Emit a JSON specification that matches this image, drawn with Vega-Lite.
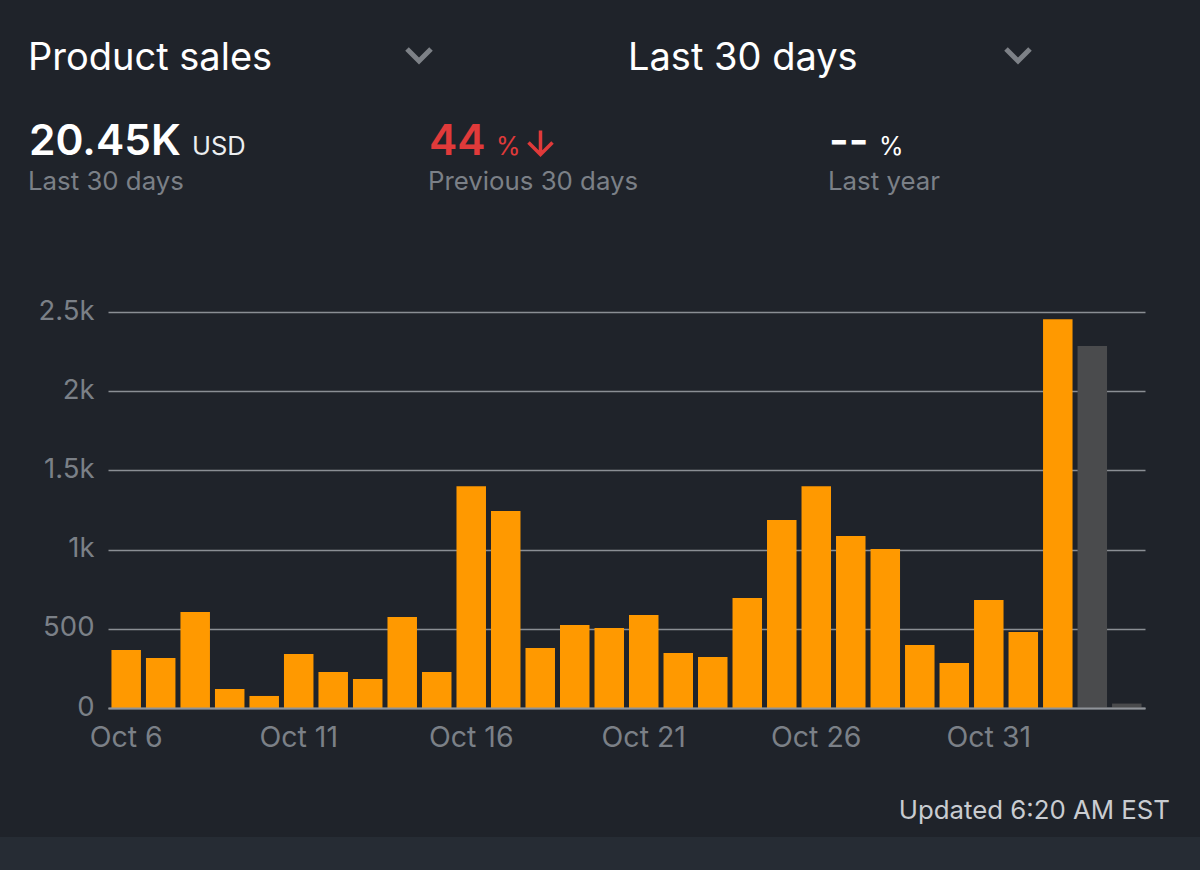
{
  "$schema": "https://vega.github.io/schema/vega-lite/v6.json",
  "width": 1037,
  "height": 396,
  "autosize": "none",
  "padding": {"left": 108, "top": 312, "right": 55, "bottom": 162},
  "background": "#1f232a",
  "config": {"view": {"stroke": null}, "font": "Inter", "text": {"font": "Inter", "align": "left", "baseline": "alphabetic"}},
  "resolve": {"scale": {"x": "independent", "y": "independent", "color": "independent"}, "axis": {"x": "independent", "y": "independent"}},
  "layer": [
    {
      "data": {"values": [{"zone": "footer"}]},
      "mark": {"type": "bar", "color": "#262c34"},
      "encoding": {
        "x": {"field": "zone", "type": "nominal", "axis": null, "scale": {"type": "band", "domain": ["footer"], "range": [-108, 1092], "padding": 0}},
        "y": {"field": "zone", "type": "nominal", "axis": null, "scale": {"type": "band", "domain": ["footer"], "range": [525, 558], "padding": 0}}
      }
    },
    {
      "data": {
        "values": [
          {"day": "Oct 6", "sales": 366, "status": "final"},
          {"day": "Oct 7", "sales": 316, "status": "final"},
          {"day": "Oct 8", "sales": 606, "status": "final"},
          {"day": "Oct 9", "sales": 120, "status": "final"},
          {"day": "Oct 10", "sales": 76, "status": "final"},
          {"day": "Oct 11", "sales": 341, "status": "final"},
          {"day": "Oct 12", "sales": 227, "status": "final"},
          {"day": "Oct 13", "sales": 183, "status": "final"},
          {"day": "Oct 14", "sales": 575, "status": "final"},
          {"day": "Oct 15", "sales": 227, "status": "final"},
          {"day": "Oct 16", "sales": 1400, "status": "final"},
          {"day": "Oct 17", "sales": 1244, "status": "final"},
          {"day": "Oct 18", "sales": 379, "status": "final"},
          {"day": "Oct 19", "sales": 524, "status": "final"},
          {"day": "Oct 20", "sales": 505, "status": "final"},
          {"day": "Oct 21", "sales": 587, "status": "final"},
          {"day": "Oct 22", "sales": 347, "status": "final"},
          {"day": "Oct 23", "sales": 322, "status": "final"},
          {"day": "Oct 24", "sales": 694, "status": "final"},
          {"day": "Oct 25", "sales": 1187, "status": "final"},
          {"day": "Oct 26", "sales": 1400, "status": "final"},
          {"day": "Oct 27", "sales": 1086, "status": "final"},
          {"day": "Oct 28", "sales": 1004, "status": "final"},
          {"day": "Oct 29", "sales": 398, "status": "final"},
          {"day": "Oct 30", "sales": 284, "status": "final"},
          {"day": "Oct 31", "sales": 682, "status": "final"},
          {"day": "Nov 1", "sales": 480, "status": "final"},
          {"day": "Nov 2", "sales": 2455, "status": "final"},
          {"day": "Nov 3", "sales": 2285, "status": "pending"},
          {"day": "Nov 4", "sales": 28, "status": "pending"}
        ]
      },
      "mark": {"type": "bar"},
      "encoding": {
        "x": {
          "field": "day",
          "type": "ordinal",
          "sort": null,
          "title": null,
          "scale": {"type": "band", "paddingInner": 0.145, "paddingOuter": 0.1},
          "axis": {
            "values": ["Oct 6", "Oct 11", "Oct 16", "Oct 21", "Oct 26", "Oct 31"],
            "labelAngle": 0,
            "labelColor": "#7b8087",
            "labelFontSize": 28.5,
            "labelPadding": 15,
            "ticks": false,
            "grid": false,
            "domainColor": "#8f9399",
            "domainWidth": 2,
            "zindex": 1
          }
        },
        "y": {
          "field": "sales",
          "type": "quantitative",
          "title": null,
          "scale": {"domain": [0, 2500]},
          "axis": {
            "values": [0, 500, 1000, 1500, 2000, 2500],
            "labelExpr": "datum.value >= 1000 ? (datum.value / 1000) + 'k' : datum.value",
            "labelColor": "#7b8087",
            "labelFontSize": 27.5,
            "labelPadding": 14,
            "labelOffset": -1,
            "domain": false,
            "ticks": false,
            "grid": true,
            "gridColor": "#8a8e94",
            "gridWidth": 1.5,
            "gridOpacity": 1
          }
        },
        "color": {
          "field": "status",
          "type": "nominal",
          "legend": null,
          "scale": {"domain": ["final", "pending"], "range": ["#ff9900", "#4a4b4d"]}
        }
      }
    },
    {
      "data": {"values": [{"label": "Product sales", "row": "selector"}, {"label": "Last 30 days", "row": "selector"}]},
      "mark": {"type": "text", "fontSize": 38, "color": "#ffffff"},
      "encoding": {
        "text": {"field": "label"},
        "x": {"field": "label", "type": "nominal", "axis": null, "scale": {"type": "point", "domain": ["Product sales", "Last 30 days"], "range": [-80, 520], "padding": 0}},
        "y": {"field": "row", "type": "nominal", "axis": null, "scale": {"type": "point", "domain": ["selector"], "range": [-242, -242], "padding": 0}}
      }
    },
    {
      "data": {"values": [{"menu": "metric", "row": "selector"}, {"menu": "period", "row": "selector"}]},
      "mark": {"type": "point", "filled": false, "shape": "M-1,-0.5L0,0.5L1,-0.5", "size": 576, "stroke": "#7d8187", "strokeWidth": 5, "opacity": 1},
      "encoding": {
        "x": {"field": "menu", "type": "nominal", "axis": null, "scale": {"type": "point", "domain": ["metric", "period"], "range": [311, 910], "padding": 0}},
        "y": {"field": "row", "type": "nominal", "axis": null, "scale": {"type": "point", "domain": ["selector"], "range": [-257, -257], "padding": 0}}
      }
    },
    {
      "data": {
        "values": [
          {"value": "20.45K", "row": "metric", "tone": "neutral"},
          {"value": "44", "row": "metric", "tone": "down"},
          {"value": "--", "row": "metric", "tone": "neutral"}
        ]
      },
      "mark": {"type": "text", "fontSize": 42.5, "fontWeight": 600},
      "encoding": {
        "text": {"field": "value"},
        "x": {"field": "value", "type": "nominal", "axis": null, "scale": {"type": "point", "domain": ["20.45K", "44", "--"], "range": [-79, 721], "padding": 0}},
        "y": {"field": "row", "type": "nominal", "axis": null, "scale": {"type": "point", "domain": ["metric"], "range": [-157, -157], "padding": 0}},
        "color": {"field": "tone", "type": "nominal", "legend": null, "scale": {"domain": ["neutral", "down"], "range": ["#ffffff", "#e03a3a"]}}
      }
    },
    {
      "data": {"values": [{"unit": "USD", "row": "metric"}]},
      "mark": {"type": "text", "fontSize": 25.5, "color": "#eceef0"},
      "encoding": {
        "text": {"field": "unit"},
        "x": {"field": "unit", "type": "nominal", "axis": null, "scale": {"type": "point", "domain": ["USD"], "range": [84, 84], "padding": 0}},
        "y": {"field": "row", "type": "nominal", "axis": null, "scale": {"type": "point", "domain": ["metric"], "range": [-157, -157], "padding": 0}}
      }
    },
    {
      "data": {"values": [{"unit": "%", "row": "metric", "tone": "down"}]},
      "mark": {"type": "text", "fontSize": 25, "color": "#e03a3a"},
      "encoding": {
        "text": {"field": "unit"},
        "x": {"field": "tone", "type": "nominal", "axis": null, "scale": {"type": "point", "domain": ["down"], "range": [388, 388], "padding": 0}},
        "y": {"field": "row", "type": "nominal", "axis": null, "scale": {"type": "point", "domain": ["metric"], "range": [-157, -157], "padding": 0}}
      }
    },
    {
      "data": {"values": [{"unit": "%", "row": "metric", "tone": "neutral"}]},
      "mark": {"type": "text", "fontSize": 25, "color": "#ffffff"},
      "encoding": {
        "text": {"field": "unit"},
        "x": {"field": "tone", "type": "nominal", "axis": null, "scale": {"type": "point", "domain": ["neutral"], "range": [771, 771], "padding": 0}},
        "y": {"field": "row", "type": "nominal", "axis": null, "scale": {"type": "point", "domain": ["metric"], "range": [-157, -157], "padding": 0}}
      }
    },
    {
      "data": {"values": [{"change": "down", "row": "metric"}]},
      "mark": {"type": "point", "filled": false, "shape": "M0,-1L0,1M-1,0L0,1L1,0", "size": 576, "stroke": "#e03a3a", "strokeWidth": 3.5, "opacity": 1},
      "encoding": {
        "x": {"field": "change", "type": "nominal", "axis": null, "scale": {"type": "point", "domain": ["down"], "range": [432.5, 432.5], "padding": 0}},
        "y": {"field": "row", "type": "nominal", "axis": null, "scale": {"type": "point", "domain": ["metric"], "range": [-169.5, -169.5], "padding": 0}}
      }
    },
    {
      "data": {
        "values": [
          {"caption": "Last 30 days", "row": "caption"},
          {"caption": "Previous 30 days", "row": "caption"},
          {"caption": "Last year", "row": "caption"}
        ]
      },
      "mark": {"type": "text", "fontSize": 25.8, "color": "#7b8087"},
      "encoding": {
        "text": {"field": "caption"},
        "x": {"field": "caption", "type": "nominal", "axis": null, "scale": {"type": "point", "domain": ["Last 30 days", "Previous 30 days", "Last year"], "range": [-80, 720], "padding": 0}},
        "y": {"field": "row", "type": "nominal", "axis": null, "scale": {"type": "point", "domain": ["caption"], "range": [-122, -122], "padding": 0}}
      }
    },
    {
      "data": {"values": [{"note": "Updated 6:20 AM EST", "row": "footer"}]},
      "mark": {"type": "text", "fontSize": 25.8, "color": "#c9ccd1", "align": "right"},
      "encoding": {
        "text": {"field": "note"},
        "x": {"field": "note", "type": "nominal", "axis": null, "scale": {"type": "point", "domain": ["Updated 6:20 AM EST"], "range": [1062, 1062], "padding": 0}},
        "y": {"field": "row", "type": "nominal", "axis": null, "scale": {"type": "point", "domain": ["footer"], "range": [507, 507], "padding": 0}}
      }
    }
  ]
}
